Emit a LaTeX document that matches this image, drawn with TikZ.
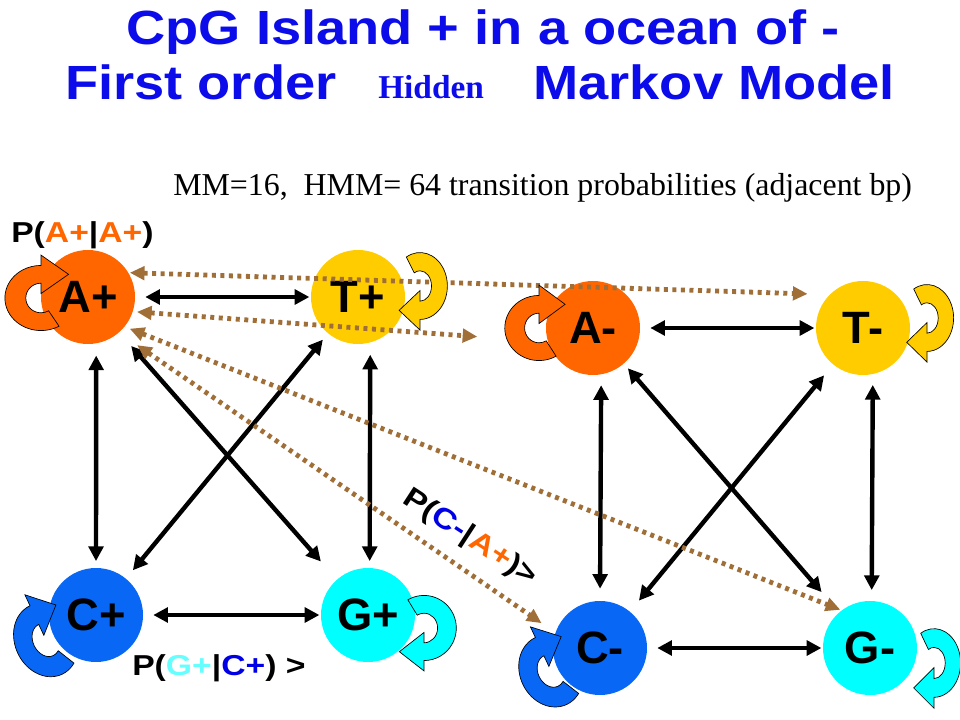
\documentclass[tikz,border=0pt]{standalone}
\usepackage{fontspec}
\usepackage{graphicx}
\setmainfont{Liberation Serif}
\newfontfamily\sansN{Liberation Sans}
\usetikzlibrary{arrows.meta,calc}
\definecolor{Aor}{RGB}{255,102,0}
\definecolor{Tye}{RGB}{255,204,0}
\definecolor{Cbl}{RGB}{8,104,245}
\definecolor{Gcy}{RGB}{0,255,255}
\definecolor{titleblue}{RGB}{12,12,235}
\definecolor{brownc}{RGB}{160,110,55}
\definecolor{lcyan}{RGB}{102,255,255}
\definecolor{lblue}{RGB}{0,0,230}
\newcommand{\wideT}[1]{\scalebox{1.13}[1]{#1}}
\newcommand{\wideL}[1]{\scalebox{1.17}[1]{#1}}
\tikzset{
  state/.style={circle, minimum size=70.5pt, inner sep=0pt, font=\sansN\bfseries\fontsize{34}{34}\selectfont},
  titletext/.style={inner sep=0pt, text=titleblue, font=\sansN\bfseries\fontsize{36}{36}\selectfont},
  blackarr/.style={draw=black, line width=3.3pt, {Triangle[length=11pt,width=11pt]}-{Triangle[length=11pt,width=11pt]}},
  brownarr/.style={draw=brownc, line width=3.6pt, dash pattern=on 3pt off 3.4pt, {Triangle[length=11pt,width=10pt]}-{Triangle[length=11pt,width=10pt]}},
  plabel/.style={inner sep=0pt, font=\sansN\bfseries\fontsize{21.6}{22}\selectfont},
  pics/selfloop/.style={code={
    \path[draw=black, line width=0.5pt, pic actions]
      (60:38 and 44) arc[start angle=60, end angle=270, x radius=38, y radius=44]
      -- (0,-58) -- (29,-32) -- (0,-6) -- (0,-20)
      arc[start angle=270, end angle=60, x radius=16, y radius=20] -- cycle;
  }}
}
\begin{document}
\begin{tikzpicture}[x=0.75pt, y=-0.75pt]
\useasboundingbox (0,0) rectangle (960,720);
\fill[white] (0,0) rectangle (960,720);

% title
\node[titletext, anchor=base] (t1) at (483,45) {\wideT{CpG Island + in a ocean of -}};
\node[titletext, anchor=base west] (t2) at (65,100) {\wideT{First order}};
\node[anchor=base west, inner sep=0pt, text=titleblue, font=\bfseries\fontsize{25}{25}\selectfont] (t3) at (378,99) {Hidden};
\node[titletext, anchor=base west] (t4) at (533,100) {\wideT{Markov Model}};
\node[anchor=base west, inner sep=0pt, font=\fontsize{23.9}{24}\selectfont] (sub) at (173,196) {MM=16,\ \ HMM= 64 transition probabilities (adjacent bp)};

% states
\node[state, fill=Aor] (Ap) at (88,297) {A+};
\node[state, fill=Tye] (Tp) at (358,297) {T+};
\node[state, fill=Cbl] (Cp) at (96,615) {C+};
\node[state, fill=Gcy] (Gp) at (368,615) {G+};
\node[state, fill=Aor] (Am) at (593,328) {A-};
\node[state, fill=Tye] (Tm) at (863,328) {T-};
\node[state, fill=Cbl] (Cm) at (600,648) {C-};
\node[state, fill=Gcy] (Gm) at (870,648) {G-};

% black transitions
\draw[blackarr, shorten <=7.5pt, shorten >=1pt] (Ap) -- (Tp);
\draw[blackarr, shorten <=7.5pt, shorten >=1pt] (Cp) -- (Gp);
\draw[blackarr, shorten <=9pt, shorten >=5pt] (Ap.-80) -- (Cp.north);
\draw[blackarr, shorten <=9pt, shorten >=5pt] (Tp.-75) -- (Gp.88);
\draw[blackarr, shorten <=13.5pt, shorten >=18pt] (Ap) -- (Gp);
\draw[blackarr, shorten <=6pt, shorten >=8pt] (Tp) -- (Cp);
\draw[blackarr, shorten <=7.5pt, shorten >=1pt] (Am) -- (Tm);
\draw[blackarr, shorten <=7.5pt, shorten >=1pt] (Cm) -- (Gm);
\draw[blackarr, shorten <=8pt, shorten >=9pt] (Am.-80) -- (Cm.north);
\draw[blackarr, shorten <=8pt, shorten >=8pt] (Tm.-78) -- (Gm.88);
\draw[blackarr, shorten <=4.5pt, shorten >=20pt] (Am) -- (Gm);
\draw[blackarr, shorten <=10.5pt, shorten >=10.5pt] (Tm) -- (Cm);

% brown dotted transitions between the two models
\draw[brownarr, shorten <=1pt, shorten >=16.5pt] (Ap.31) -- (Tm.135);
\draw[brownarr, shorten <=3pt, shorten >=53pt] (Ap.-18) -- (Am.197);
\draw[brownarr, shorten <=4pt, shorten >=1pt] (Ap.-39) -- (Gm.127);
\draw[brownarr, shorten <=16.5pt, shorten >=12.5pt] (Ap.-49) -- (Cm.161);

% self loops
\pic[fill=Aor, xscale=0.95, yscale=0.74] at (41,298) {selfloop};
\pic[fill=Tye, rotate=180, xscale=0.72, yscale=0.76] at (420,286) {selfloop};
\pic[fill=Cbl, rotate=25, xscale=0.82, yscale=0.86] at (46,640) {selfloop};
\pic[fill=Gcy, rotate=180, xscale=0.85, yscale=0.74] at (424,628) {selfloop};
\pic[fill=Aor, xscale=0.9, yscale=0.74] at (539,328) {selfloop};
\pic[fill=Tye, rotate=180, xscale=0.7, yscale=0.76] at (927,318) {selfloop};
\pic[fill=Cbl, rotate=25, xscale=0.82, yscale=0.84] at (551,671) {selfloop};
\pic[fill=Gcy, rotate=180, xscale=0.7, yscale=0.78] at (934,663) {selfloop};

% probability labels
\node[plabel, anchor=base west] (lAA) at (11,243) {\wideL{P(\textcolor{Aor}{A+}|\textcolor{Aor}{A+})}};
\node[plabel, anchor=base west] (lGC) at (132,675) {\wideL{P(\textcolor{lcyan}{G+}|\textcolor{lblue}{C+}) >}};
\node[plabel, rotate=-33] (lCA) at (470,538) {\wideL{P(\textcolor{lblue}{C-}|\textcolor{Aor}{A+})>}};
\end{tikzpicture}
\end{document}
